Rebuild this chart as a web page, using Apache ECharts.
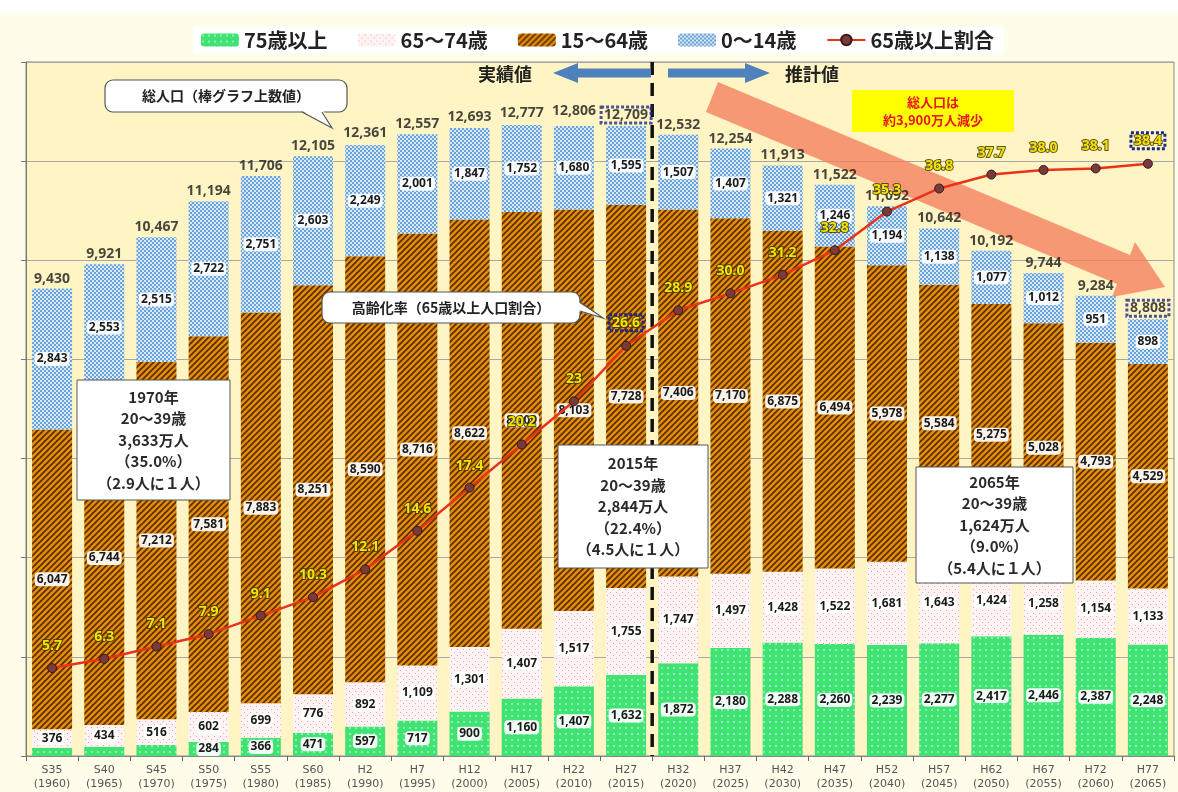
<!DOCTYPE html>
<html><head><meta charset="utf-8">
<script src="https://cdn.jsdelivr.net/npm/echarts@6/dist/echarts.min.js"></script>
<style>html,body{margin:0;padding:0;background:#FFFDEA;}#c{width:1178px;height:792px;}</style>
</head><body><div id="c"></div>
<script>
const eras = ['S35','S40','S45','S50','S55','S60','H2','H7','H12','H17','H22','H27','H32','H37','H42','H47','H52','H57','H62','H67','H72','H77'];
const years = [1960,1965,1970,1975,1980,1985,1990,1995,2000,2005,2010,2015,2020,2025,2030,2035,2040,2045,2050,2055,2060,2065];
const age75plus = [164,189,224,284,366,471,597,717,900,1160,1407,1632,1872,2180,2288,2260,2239,2277,2417,2446,2387,2248];
const age65to74 = [376,434,516,602,699,776,892,1109,1301,1407,1517,1755,1747,1497,1428,1522,1681,1643,1424,1258,1154,1133];
const age15to64 = [6047,6744,7212,7581,7883,8251,8590,8716,8622,8409,8103,7728,7406,7170,6875,6494,5978,5584,5275,5028,4793,4529];
const age0to14 = [2843,2553,2515,2722,2751,2603,2249,2001,1847,1752,1680,1595,1507,1407,1321,1246,1194,1138,1077,1012,951,898];
const totalPop = [9430,9921,10467,11194,11706,12105,12361,12557,12693,12777,12806,12709,12532,12254,11913,11522,11092,10642,10192,9744,9284,8808];
const agedRatio = [5.7,6.3,7.1,7.9,9.1,10.3,12.1,14.6,17.4,20.2,23,26.6,28.9,30.0,31.2,32.8,35.3,36.8,37.7,38.0,38.1,38.4];
const seriesNames = ['75歳以上','65～74歳','15～64歳','0～14歳','65歳以上割合'];

const FONT = '"Noto Sans CJK JP","Noto Sans",sans-serif';
const categories = eras.map((e,i)=>e+'\n('+years[i]+')');

function pat(w,h,draw){const c=document.createElement('canvas');c.width=w;c.height=h;const g=c.getContext('2d');draw(g,w,h);return {image:c,repeat:'repeat'};}
const greenPat = pat(6,6,(g)=>{g.fillStyle='#40E36F';g.fillRect(0,0,6,6);g.fillStyle='#8CEBC8';g.fillRect(1,1,2,2);});
const pinkPat = pat(6,6,(g)=>{g.fillStyle='#FFF4F3';g.fillRect(0,0,6,6);g.fillStyle='#E3A3AE';g.fillRect(1,1,1,1);g.fillRect(4,4,1,1);});
const orangePat = pat(6,6,(g)=>{g.fillStyle='#E58E0C';g.fillRect(0,0,6,6);g.strokeStyle='#5A2E00';g.lineWidth=1.7;
  [[0,6,6,0],[-6,6,6,-6],[0,12,12,0]].forEach(l=>{g.beginPath();g.moveTo(l[0],l[1]);g.lineTo(l[2],l[3]);g.stroke();});});
const bluePat = pat(4,4,(g)=>{g.fillStyle='#6AA2DA';g.fillRect(0,0,4,4);g.fillStyle='#D8E8F7';g.fillRect(0,0,2,2);g.fillRect(2,2,2,2);});

const fmt = v => Number(v).toLocaleString('en-US');
const segLabel = {show:true,position:'inside',fontSize:12,fontWeight:'bold',color:'#1a1a1a',fontFamily:'"Noto Sans",sans-serif',
  backgroundColor:'rgba(255,255,255,0.92)',padding:[1,2],borderRadius:4,formatter:p=>fmt(p.value)};
const dotted = {borderColor:'#1c2a8a',borderWidth:3,borderType:[3,2],padding:[1,3]};

const d75 = age75plus.map((v,i)=> i<3 ? {value:v,label:{show:false}} : v);
const d65 = age65to74.slice();
const d15 = age15to64.slice();
const d0 = age0to14.slice();
const dTot = totalPop.map((v,i)=> (i===11||i===21) ? {value:v,label:Object.assign({},dotted)} : v);
const dRatio = agedRatio.map((v,i)=> (i===11||i===21) ? {value:v,label:Object.assign({},dotted)} : v);
const ratioText = v => (v===23 ? '23' : v.toFixed(1));

const chart = echarts.init(document.getElementById('c'),null,{renderer:'canvas'});
const option = {
  backgroundColor:'#FFFDEA',
  animation:false,
  textStyle:{fontFamily:FONT},
  legend:{data:seriesNames,left:193,top:27,backgroundColor:'#ffffff',padding:[3,10,3,8],itemGap:30,itemWidth:38,itemHeight:13,
    textStyle:{fontSize:20,fontWeight:'bold',color:'#222',fontFamily:FONT}},
  grid:{left:26,right:4,top:62,bottom:36,show:true,backgroundColor:'#FFF4C4',borderColor:'#8a8a8a',borderWidth:1},
  xAxis:{type:'category',data:categories,axisLine:{lineStyle:{color:'#888'}},axisTick:{show:true,length:5,lineStyle:{color:'#666'}},
    axisLabel:{fontSize:11,color:'#555',lineHeight:14,margin:7,fontFamily:'"DejaVu Sans",sans-serif'}},
  yAxis:[{type:'value',min:0,max:14000,interval:2000,axisLabel:{show:false},axisLine:{show:true,lineStyle:{color:'#777'}},
    axisTick:{show:true,length:5,lineStyle:{color:'#777'}},splitLine:{lineStyle:{color:'#a8a8a8',width:1}}},
    {type:'value',min:0,max:45,show:false,splitLine:{show:false}}],
  series:[
    {name:seriesNames[0],type:'bar',stack:'pop',barWidth:40,data:d75,itemStyle:{color:greenPat},label:segLabel},
    {name:seriesNames[1],type:'bar',stack:'pop',barWidth:40,data:d65,itemStyle:{color:pinkPat},label:segLabel},
    {name:seriesNames[2],type:'bar',stack:'pop',barWidth:40,data:d15,itemStyle:{color:orangePat},label:segLabel},
    {name:seriesNames[3],type:'bar',stack:'pop',barWidth:40,data:d0,itemStyle:{color:bluePat},label:segLabel},
    {name:'総人口',type:'scatter',data:dTot,symbolSize:2,itemStyle:{color:'rgba(0,0,0,0)'},z:96,
      label:{show:true,position:'top',distance:2,fontSize:14,fontWeight:'bold',color:'#1a1a1a',fontFamily:'"Noto Sans",sans-serif',formatter:p=>fmt(p.value)}},
    {name:seriesNames[4],type:'line',yAxisIndex:1,data:dRatio,z:97,symbol:'circle',symbolSize:9,
      lineStyle:{color:'#E8331A',width:2.5},itemStyle:{color:'#7A3A3A',borderColor:'#3a1a1a',borderWidth:1},
      label:{show:true,position:'top',distance:10,fontSize:14,fontWeight:'bold',color:'#F2E400',textBorderColor:'rgba(70,55,0,0.85)',textBorderWidth:2,
        fontFamily:'"Noto Sans",sans-serif',formatter:p=>ratioText(p.value)}}
  ]
};
chart.setOption(option);

const xa = chart.convertToPixel({xAxisIndex:0,yAxisIndex:0},[11,0]);
const xb = chart.convertToPixel({xAxisIndex:0,yAxisIndex:0},[12,0]);
const divX = (xa[0]+xb[0])/2;
const yTop = chart.convertToPixel({yAxisIndex:0},14000);
const yBot = chart.convertToPixel({yAxisIndex:0},0);

const Z = 100;
function textBox(x,y,w,h,txt){
  return [
    {type:'rect',z:Z,shape:{x:x,y:y,width:w,height:h},style:{fill:'#fff',stroke:'#555',lineWidth:1}},
    {type:'text',z:Z+1,style:{x:x+w/2,y:y+h/2,text:txt,align:'center',verticalAlign:'middle',fontSize:15,fontWeight:'bold',lineHeight:21.5,fontFamily:FONT,fill:'#2a2a2a'}}
  ];
}
function callout(x,y,w,h,fillPts,edgePts,txt){
  return [
    {type:'rect',z:Z,shape:{x:x,y:y,width:w,height:h,r:8},style:{fill:'#fff',stroke:'#555',lineWidth:1.2}},
    {type:'polygon',z:Z+1,shape:{points:fillPts},style:{fill:'#fff'}},
    {type:'polyline',z:Z+2,shape:{points:edgePts},style:{stroke:'#555',lineWidth:1.2,fill:null}},
    {type:'text',z:Z+3,style:{x:x+w/2,y:y+h/2,text:txt,align:'center',verticalAlign:'middle',fontSize:14,fontWeight:'bold',fontFamily:FONT,fill:'#222'}}
  ];
}
const graphic = [
  {type:'rect',z:0,shape:{x:0,y:0,width:1178,height:13},style:{fill:'#ffffff'}},
  {type:'line',z:90,shape:{x1:divX,y1:yTop,x2:divX,y2:yBot},style:{stroke:'#111',lineWidth:3.5,lineDash:[13,8]}},
  {type:'polygon',z:90,shape:{points:[[553,73],[578,63],[578,68.5],[651,68.5],[651,77.5],[578,77.5],[578,83]]},style:{fill:'#4F81BD'}},
  {type:'polygon',z:90,shape:{points:[[668,68.5],[745,68.5],[745,63],[770,73],[745,83],[745,77.5],[668,77.5]]},style:{fill:'#4F81BD'}},
  {type:'text',z:90,style:{x:505,y:74,text:'実績値',align:'center',verticalAlign:'middle',fontSize:18,fontWeight:'bold',fontFamily:FONT,fill:'#222'}},
  {type:'text',z:90,style:{x:812,y:74,text:'推計値',align:'center',verticalAlign:'middle',fontSize:18,fontWeight:'bold',fontFamily:FONT,fill:'#222'}},
  {type:'polygon',z:95,shape:{points:[[718,82],[1130,255],[1135,242],[1165,287],[1112,297],[1117,284],[706,112]]},style:{fill:'rgba(245,125,95,0.78)'}},
  {type:'rect',z:Z,shape:{x:852,y:90,width:162,height:42},style:{fill:'#FFFF00'}},
  {type:'text',z:Z+1,style:{x:933,y:111,text:'総人口は\n約3,900万人減少',align:'center',verticalAlign:'middle',fontSize:13,fontWeight:'bold',lineHeight:18,fontFamily:FONT,fill:'#E8141E'}},
  ...callout(105,80,242,32,[[301,110],[323,110],[332,128]],[[302,112],[332,128],[322,112]],'総人口（棒グラフ上数値）'),
  ...callout(322,292,258,31,[[578,302],[578,311],[603,318]],[[580,302],[603,318],[580,311]],'高齢化率（65歳以上人口割合）'),
  ...textBox(77,380,153,120,'1970年\n20～39歳\n3,633万人\n（35.0%）\n（2.9人に１人）'),
  ...textBox(558,445,150,123,'2015年\n20～39歳\n2,844万人\n（22.4%）\n（4.5人に１人）'),
  ...textBox(916,467,157,116,'2065年\n20～39歳\n1,624万人\n（9.0%）\n（5.4人に１人）')
];
chart.setOption({graphic:graphic});
</script></body></html>
